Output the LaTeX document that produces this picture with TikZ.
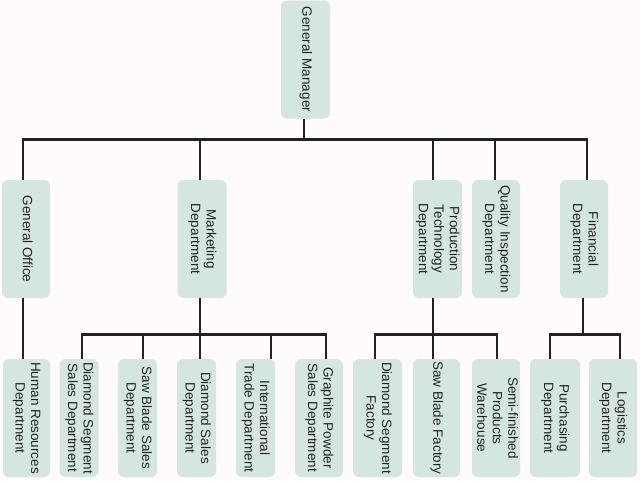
\documentclass[tikz,border=0pt]{standalone}
\usepackage{fontspec}
\setmainfont{Liberation Sans}
\usepackage{graphicx}
\usepackage{tikz}
\definecolor{boxfill}{HTML}{D5E6DF}
\definecolor{ink}{HTML}{222222}
\definecolor{paper}{HTML}{FFFBFA}
\newcommand{\vtext}[1]{\rotatebox{-90}{\begin{tabular}{@{}c@{}}#1\end{tabular}}}

\begin{document}
\begin{tikzpicture}[x=1pt,y=-1pt,
 dept/.style={fill=boxfill,rounded corners=6pt,inner sep=0pt,minimum height=118pt,text=ink,font=\fontsize{13.5}{15.5}\selectfont},
 link/.style={ink,line width=2.6pt}]
\fill[paper] (0,0) rectangle (640,480);
\useasboundingbox (0,0) rectangle (640,480);

\node[dept,minimum width=49pt] (gm) at (305.5,59.5) {\vtext{General Manager}};

\foreach \name/\x/\w/\txt in {go/26/48/{General Office},mk/202/49/{Marketing\\Department},pt/437.5/49/{Production\\Technology\\Department},qi/496/48/{Quality Inspection\\Department},fi/584/48/{Financial\\Department}}{
 \node[dept,minimum width=\w pt] (\name) at (\x,239) {\vtext{\txt}};
 }

\foreach \name/\x/\w/\txt in {hr/26.5/47/{Human Resources\\Department},dss/79/39/{Diamond Segment\\Sales Department},sbs/137.5/39/{Saw Blade Sales\\Department},ds/196.5/39/{Diamond Sales\\Department},itd/255.5/39/{International\\Trade Department},gps/319/48/{Graphite Powder\\Sales Department},dsf/377.5/49/{Diamond Segment\\Factory},sbf/436.5/47/{Saw Blade Factory},sfw/496/48/{Semi-finished\\Products\\Warehouse},pu/555/50/{Purchasing\\Department},lo/613/48/{Logistics\\Department}}{
 \node[dept,minimum width=\w pt] (\name) at (\x,418) {\vtext{\txt}};
 }

\draw[link] ([xshift=-1.5pt]gm.south) -- ++(0,21) coordinate (gmbus);
\foreach \c/\dx in {go/-3,mk/-2,pt/-4.5,qi/-1,fi/3}
 \draw[link] (gmbus) -| ([xshift=\dx pt]\c.north);

\draw[link] ([xshift=-3pt]go.south) -- ([xshift=-3.5pt]hr.north);

\draw[link] ([xshift=-2pt]mk.south) -- ++(0,36) coordinate (mkbus);
\foreach \c/\dx in {dss/3,sbs/5.5,ds/3.5,itd/15.5,gps/7}
 \draw[link] (mkbus) -| ([xshift=\dx pt]\c.north);

\draw[link] ([xshift=-4.5pt]pt.south) -- ++(0,36) coordinate (ptbus);
\foreach \c/\dx in {dsf/-2.5,sbf/-3.5,sfw/1}
 \draw[link] (ptbus) -| ([xshift=\dx pt]\c.north);

\draw[link] ([xshift=-1pt]fi.south) -- ++(0,36) coordinate (fibus);
\foreach \c/\dx in {pu/-5,lo/7}
 \draw[link] (fibus) -| ([xshift=\dx pt]\c.north);

\end{tikzpicture}
\end{document}
